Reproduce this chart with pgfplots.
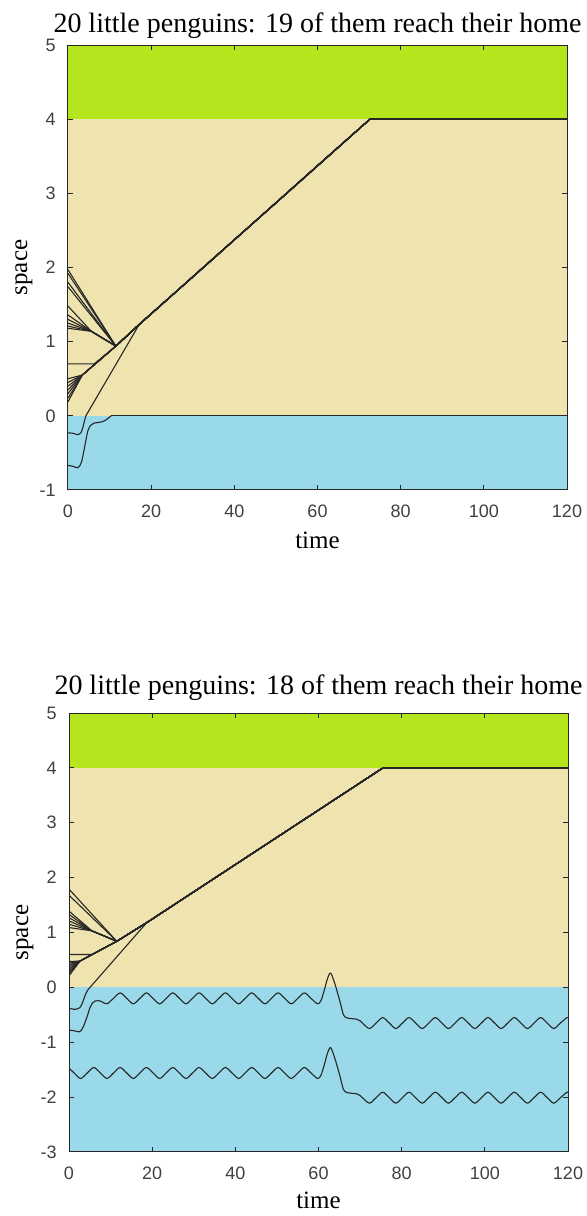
\documentclass[border=0pt]{standalone}
\usepackage{pgfplots}
\pgfplotsset{compat=1.18}
\usepackage{fontspec}
\setmainfont{Liberation Serif}
\setsansfont{Liberation Sans}

\definecolor{grass}{HTML}{B5E61D}
\definecolor{sand}{HTML}{EFE4B0}
\definecolor{sea}{HTML}{99D9EA}
\definecolor{axgray}{HTML}{262626}
\definecolor{tickgray}{HTML}{404040}

\pgfplotsset{
  penguinbox/.style={
    width=249.5pt, scale only axis,
    xmin=0, xmax=120,
    xtick={0,20,...,120},
    axis on top,
    axis line style={axgray, line width=0.5pt},
    tick style={axgray, line width=0.5pt},
    major tick length=2.5pt,
    tick label style={font=\sffamily\fontsize{9}{10}\selectfont, text=tickgray},
    xticklabel style={anchor=north, inner sep=0pt, yshift=-7.5pt},
    yticklabel style={anchor=east, inner sep=0pt, xshift=-6pt},
    /pgf/number format/assume math mode=true,
    xlabel={time}, ylabel={space},
    label style={font=\fontsize{12.5}{15}\selectfont, inner sep=0pt},
  },
  traj/.style={draw=black!85, line width=0.55pt},
  wave/.style={traj, smooth},
}

\begin{document}
\begin{tikzpicture}
\useasboundingbox (0,0) rectangle (293.5pt,608pt);

% ---------- top: 19 of them reach home ----------
\begin{axis}[penguinbox,
  at={(34pt,363pt)}, anchor=south west,
  height=222.5pt,
  ymin=-1, ymax=5, ytick={-1,0,...,5},
  title={20 little penguins: 19 of them reach their home},
  title style={font=\fontsize{14}{16}\selectfont, at={(axis description cs:0.5,1)},
    anchor=base, inner sep=0pt, yshift=0.5pt},
  xlabel style={at={(axis description cs:0.5,0)}, anchor=base, yshift=-29.5pt},
  ylabel style={at={(axis description cs:-0.082,0.5)}, anchor=base},
]
\addplot[fill=grass, draw=none] coordinates {(0,4) (120,4) (120,5) (0,5)} --cycle;
\addplot[fill=sand, draw=none] coordinates {(0,0) (120,0) (120,4) (0,4)} --cycle;
\addplot[fill=sea, draw=none] coordinates {(0,-1) (120,-1) (120,0) (0,0)} --cycle;

% upper fan
\addplot[traj] coordinates {(0,1.97) (11.5,0.94) (17.1,1.23) (72.6,4) (120,4)};
\addplot[traj] coordinates {(0,1.92) (11.5,0.94) (17.1,1.23) (72.6,4) (120,4)};
\addplot[traj] coordinates {(0,1.80) (11.5,0.94) (17.1,1.23) (72.6,4) (120,4)};
\addplot[traj] coordinates {(0,1.74) (11.5,0.94) (17.1,1.23) (72.6,4) (120,4)};
% middle fan
\addplot[traj] coordinates {(0,1.48) (5.6,1.14) (11.5,0.94) (17.1,1.23) (72.6,4) (120,4)};
\addplot[traj] coordinates {(0,1.36) (5.6,1.14) (11.5,0.94) (17.1,1.23) (72.6,4) (120,4)};
\addplot[traj] coordinates {(0,1.30) (5.6,1.14) (11.5,0.94) (17.1,1.23) (72.6,4) (120,4)};
\addplot[traj] coordinates {(0,1.25) (5.6,1.14) (11.5,0.94) (17.1,1.23) (72.6,4) (120,4)};
\addplot[traj] coordinates {(0,1.21) (5.6,1.14) (11.5,0.94) (17.1,1.23) (72.6,4) (120,4)};
\addplot[traj] coordinates {(0,1.18) (5.6,1.14) (11.5,0.94) (17.1,1.23) (72.6,4) (120,4)};
% waiting penguin
\addplot[traj] coordinates {(0,0.70) (6.3,0.70) (11.5,0.94) (17.1,1.23) (72.6,4) (120,4)};
% lower fan
\addplot[traj] coordinates {(0,0.19) (3.45,0.55) (11.5,0.94) (17.1,1.23) (72.6,4) (120,4)};
\addplot[traj] coordinates {(0,0.24) (3.45,0.55) (11.5,0.94) (17.1,1.23) (72.6,4) (120,4)};
\addplot[traj] coordinates {(0,0.30) (3.45,0.55) (11.5,0.94) (17.1,1.23) (72.6,4) (120,4)};
\addplot[traj] coordinates {(0,0.35) (3.45,0.55) (11.5,0.94) (17.1,1.23) (72.6,4) (120,4)};
\addplot[traj] coordinates {(0,0.40) (3.45,0.55) (11.5,0.94) (17.1,1.23) (72.6,4) (120,4)};
\addplot[traj] coordinates {(0,0.45) (3.45,0.55) (11.5,0.94) (17.1,1.23) (72.6,4) (120,4)};
\addplot[traj] coordinates {(0,0.50) (3.45,0.55) (11.5,0.94) (17.1,1.23) (72.6,4) (120,4)};
% swimmers
\addplot[wave] coordinates {(0,-0.23) (1.2,-0.235) (2.4,-0.255) (3.1,-0.23) (3.6,-0.15) (4.0,-0.06) (4.3,0)};
\addplot[traj] coordinates {(4.3,0) (17.1,1.23) (72.6,4) (120,4)};
\addplot[wave] coordinates {(0,-0.67) (1.2,-0.68) (2.4,-0.70) (3.2,-0.63) (3.8,-0.48) (4.3,-0.33)
  (4.8,-0.20) (5.4,-0.13) (6.2,-0.10) (7.2,-0.09) (8.2,-0.08) (9.0,-0.06) (9.7,-0.03) (10.4,0)};
\addplot[traj] coordinates {(10.4,0) (120,0)};
\end{axis}

% ---------- bottom: 18 of them reach home ----------
\begin{axis}[penguinbox,
  at={(34.5pt,32pt)}, anchor=south west,
  height=219.5pt,
  ymin=-3, ymax=5, ytick={-3,-2,...,5},
  title={20 little penguins: 18 of them reach their home},
  title style={font=\fontsize{14}{16}\selectfont, at={(axis description cs:0.5,1)},
    anchor=base, inner sep=0pt, yshift=3.5pt},
  xlabel style={at={(axis description cs:0.5,0)}, anchor=base, yshift=-28pt},
  ylabel style={at={(axis description cs:-0.082,0.5)}, anchor=base},
]
\addplot[fill=grass, draw=none] coordinates {(0,4) (120,4) (120,5) (0,5)} --cycle;
\addplot[fill=sand, draw=none] coordinates {(0,0) (120,0) (120,4) (0,4)} --cycle;
\addplot[fill=sea, draw=none] coordinates {(0,-3) (120,-3) (120,0) (0,0)} --cycle;

% upper fan
\addplot[traj] coordinates {(0,1.79) (11.5,0.84) (18.7,1.18) (75.5,4) (120,4)};
\addplot[traj] coordinates {(0,1.68) (11.5,0.84) (18.7,1.18) (75.5,4) (120,4)};
% middle fan
\addplot[traj] coordinates {(0,1.39) (5.5,1.03) (11.5,0.84) (18.7,1.18) (75.5,4) (120,4)};
\addplot[traj] coordinates {(0,1.33) (5.5,1.03) (11.5,0.84) (18.7,1.18) (75.5,4) (120,4)};
\addplot[traj] coordinates {(0,1.27) (5.5,1.03) (11.5,0.84) (18.7,1.18) (75.5,4) (120,4)};
\addplot[traj] coordinates {(0,1.21) (5.5,1.03) (11.5,0.84) (18.7,1.18) (75.5,4) (120,4)};
\addplot[traj] coordinates {(0,1.15) (5.5,1.03) (11.5,0.84) (18.7,1.18) (75.5,4) (120,4)};
\addplot[traj] coordinates {(0,1.09) (5.5,1.03) (11.5,0.84) (18.7,1.18) (75.5,4) (120,4)};
% waiting penguin
\addplot[traj] coordinates {(0,0.60) (5.5,0.60) (11.5,0.84) (18.7,1.18) (75.5,4) (120,4)};
% lower fan
\addplot[traj] coordinates {(0,0.21) (2.65,0.48) (11.5,0.84) (18.7,1.18) (75.5,4) (120,4)};
\addplot[traj] coordinates {(0,0.25) (2.65,0.48) (11.5,0.84) (18.7,1.18) (75.5,4) (120,4)};
\addplot[traj] coordinates {(0,0.29) (2.65,0.48) (11.5,0.84) (18.7,1.18) (75.5,4) (120,4)};
\addplot[traj] coordinates {(0,0.33) (2.65,0.48) (11.5,0.84) (18.7,1.18) (75.5,4) (120,4)};
\addplot[traj] coordinates {(0,0.37) (2.65,0.48) (11.5,0.84) (18.7,1.18) (75.5,4) (120,4)};
\addplot[traj] coordinates {(0,0.41) (2.65,0.48) (11.5,0.84) (18.7,1.18) (75.5,4) (120,4)};
\addplot[traj] coordinates {(0,0.44) (2.65,0.48) (11.5,0.84) (18.7,1.18) (75.5,4) (120,4)};
\addplot[traj] coordinates {(0,0.47) (2.65,0.48) (11.5,0.84) (18.7,1.18) (75.5,4) (120,4)};
% swimmer who makes it
\addplot[wave] coordinates {(0,-0.38) (1.4,-0.40) (2.6,-0.37) (3.3,-0.27) (3.9,-0.14) (4.5,-0.05) (5.05,0)};
\addplot[traj] coordinates {(5.05,0) (18.7,1.18) (75.5,4) (120,4)};
% swimmer rocked by the waves
\addplot[wave] coordinates {(0,-0.78) (1.2,-0.79) (2.5,-0.81) (3.3,-0.74) (3.9,-0.63) (4.5,-0.50)
  (5.05,-0.37) (5.6,-0.29) (6.25,-0.25) (7.1,-0.24) (8.0,-0.265) (9.13,-0.30)
  (10.71,-0.20) (12.30,-0.10) (13.88,-0.20) (15.47,-0.30) (17.05,-0.20) (18.63,-0.10)
  (20.21,-0.20) (21.80,-0.30) (23.38,-0.20) (24.96,-0.10) (26.54,-0.20) (28.13,-0.30)
  (29.71,-0.20) (31.29,-0.10) (32.87,-0.20) (34.46,-0.30) (36.04,-0.20) (37.62,-0.10)
  (39.20,-0.20) (40.79,-0.30) (42.37,-0.20) (43.95,-0.10) (45.53,-0.20) (47.12,-0.30)
  (48.70,-0.20) (50.28,-0.10) (51.86,-0.20) (53.45,-0.30) (55.03,-0.20) (56.61,-0.10)
  (58.19,-0.20) (59.78,-0.30) (60.6,-0.24) (61.4,-0.05) (62.2,0.17) (62.94,0.26)
  (64.0,0.05) (65.2,-0.27) (66.0,-0.50) (66.8,-0.555) (68.0,-0.57) (69.2,-0.58)
  (70.0,-0.61) (70.69,-0.66) (72.27,-0.75) (73.86,-0.65) (75.44,-0.55) (77.02,-0.65)
  (78.60,-0.75) (80.19,-0.65) (81.77,-0.55) (83.35,-0.65) (84.93,-0.75) (86.52,-0.65)
  (88.10,-0.55) (89.68,-0.65) (91.26,-0.75) (92.85,-0.65) (94.43,-0.55) (96.01,-0.65)
  (97.59,-0.75) (99.18,-0.65) (100.76,-0.55) (102.34,-0.65) (103.92,-0.75) (105.51,-0.65)
  (107.09,-0.55) (108.67,-0.65) (110.25,-0.75) (111.84,-0.65) (113.42,-0.55) (115.00,-0.65)
  (116.58,-0.75) (118.17,-0.65) (119.75,-0.55) (120,-0.552)};
% deep swimmer
\addplot[wave] coordinates {(0,-1.47) (1.22,-1.56) (2.80,-1.66) (4.39,-1.56) (5.97,-1.46)
  (7.55,-1.56) (9.13,-1.66)
  (10.71,-1.56) (12.30,-1.46) (13.88,-1.56) (15.47,-1.66) (17.05,-1.56) (18.63,-1.46)
  (20.21,-1.56) (21.80,-1.66) (23.38,-1.56) (24.96,-1.46) (26.54,-1.56) (28.13,-1.66)
  (29.71,-1.56) (31.29,-1.46) (32.87,-1.56) (34.46,-1.66) (36.04,-1.56) (37.62,-1.46)
  (39.20,-1.56) (40.79,-1.66) (42.37,-1.56) (43.95,-1.46) (45.53,-1.56) (47.12,-1.66)
  (48.70,-1.56) (50.28,-1.46) (51.86,-1.56) (53.45,-1.66) (55.03,-1.56) (56.61,-1.46)
  (58.19,-1.56) (59.78,-1.66) (60.6,-1.60) (61.4,-1.41) (62.2,-1.19) (62.94,-1.10)
  (64.0,-1.31) (65.2,-1.63) (66.0,-1.86) (66.8,-1.915) (68.0,-1.93) (69.2,-1.94)
  (70.0,-1.97) (70.69,-2.02) (72.27,-2.11) (73.86,-2.01) (75.44,-1.91) (77.02,-2.01)
  (78.60,-2.11) (80.19,-2.01) (81.77,-1.91) (83.35,-2.01) (84.93,-2.11) (86.52,-2.01)
  (88.10,-1.91) (89.68,-2.01) (91.26,-2.11) (92.85,-2.01) (94.43,-1.91) (96.01,-2.01)
  (97.59,-2.11) (99.18,-2.01) (100.76,-1.91) (102.34,-2.01) (103.92,-2.11) (105.51,-2.01)
  (107.09,-1.91) (108.67,-2.01) (110.25,-2.11) (111.84,-2.01) (113.42,-1.91) (115.00,-2.01)
  (116.58,-2.11) (118.17,-2.01) (119.75,-1.91) (120,-1.912)};
\end{axis}
\end{tikzpicture}
\end{document}
